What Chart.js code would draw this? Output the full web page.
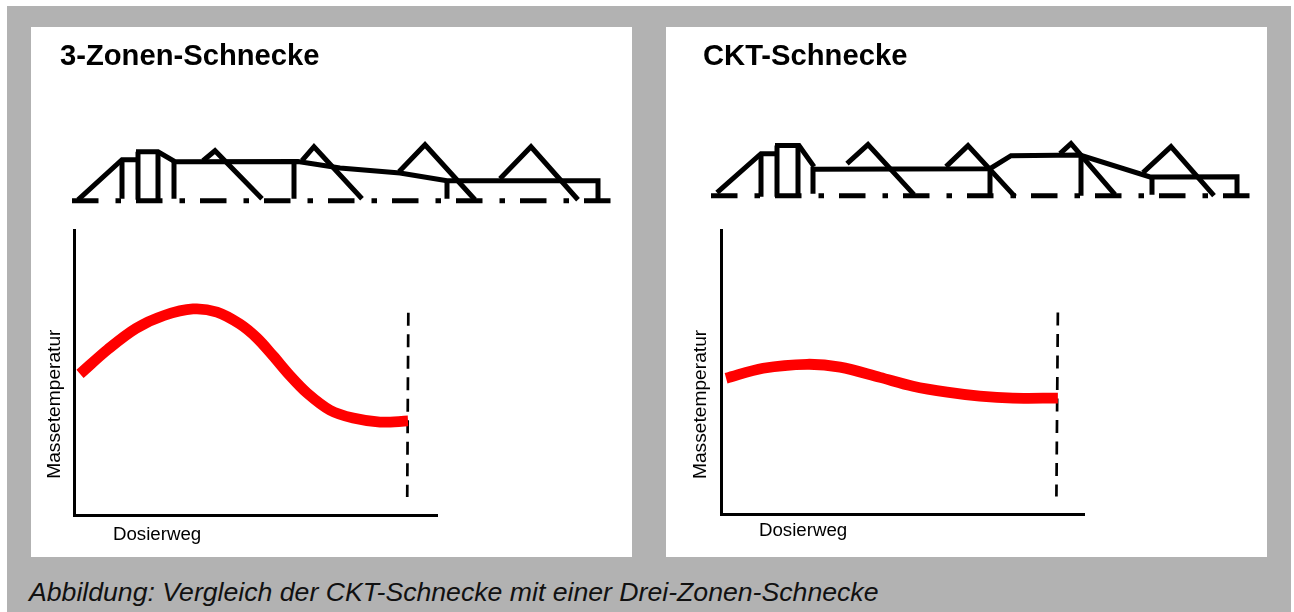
<!DOCTYPE html>
<html lang="de">
<head>
<meta charset="utf-8">
<title>Vergleich der CKT-Schnecke mit einer Drei-Zonen-Schnecke</title>
<script src="https://cdn.jsdelivr.net/npm/chart.js@4"></script>
<style>
html,body{margin:0;padding:0;width:1294px;height:612px;background:#fff;overflow:hidden;font-family:"Liberation Sans",Arial,sans-serif}
#frame{position:absolute;left:7px;top:6px;width:1284px;height:606px;background:#b2b2b2}
.panel{position:absolute;top:27px;width:601px;height:530px;background:#fff}
#p1{left:31px}#p2{left:666px}
canvas{position:absolute;left:0;display:block}
#caption{position:absolute;left:29px;top:577px;font:italic 26.65px "Liberation Sans",Arial,sans-serif;color:#111;white-space:nowrap}
</style>
</head>
<body>
<div id="frame"></div>
<div class="panel" id="p1">
  <canvas id="screw1" width="601" height="190" style="top:0"></canvas>
  <canvas id="curve1" width="601" height="340" style="top:190px"></canvas>
</div>
<div class="panel" id="p2">
  <canvas id="screw2" width="601" height="190" style="top:0"></canvas>
  <canvas id="curve2" width="601" height="340" style="top:190px"></canvas>
</div>
<div id="caption">Abbildung: Vergleich der CKT-Schnecke mit einer Drei-Zonen-Schnecke</div>
<script>
// Text
const titleThreeZone = "3-Zonen-Schnecke";
const titleCkt = "CKT-Schnecke";
const axisLabelX = "Dosierweg";
const axisLabelY = "Massetemperatur";

// Melt temperature over dosing path [dosing path, temperature], arbitrary 0-100 units
const meltThreeZone = [[1.65,49.5],[9.4,58.2],[17.1,65.5],[24.8,70],[32.8,72.3],[39.4,71.2],[45.7,67],[50.4,62.1],[54.8,55.9],[59.5,48.9],[64.2,42.8],[70.5,36.8],[76.9,34],[84.3,32.6],[92,33]];
const meltCkt = [[1.4,47.9],[11.6,51.4],[23.7,52.8],[32.8,51.8],[43.8,48.2],[52.9,45.1],[62.3,43],[71.3,41.6],[80.4,40.9],[92.8,40.9]];
const endMarkThreeZone = [[92.1,71],[91.8,6.3]];
const endMarkCkt = [[92.8,71],[92.4,6.3]];

// Screw profiles [distance along screw, height above centre line]
const centreThreeZone = [[0,0],[539,0]];
const coreThreeZone = [
  [[6,1],[50,41],[64,41]],
  [[50,41],[50,2]],
  [[66,49],[66,1]],
  [[86,49],[86,1]],
  [[64,49],[86,49],[103,39],[226,39.3],[268,32.8],[328,27.8],[375,20],[526,20],[526,0]],
  [[102,39],[102,2]],
  [[222,39],[222,2]],
  [[375,20],[375,2]]
];
const flightsThreeZone = [
  [[131,40],[143,50],[190,2]],
  [[230,40],[242,54],[290,2]],
  [[327,29],[353,56],[403,1]],
  [[428,22],[459,54],[506,1]]
];
const centreCkt = [[0,0],[539,0]];
const coreCkt = [
  [[6,3],[50,42],[64,42]],
  [[50,42],[50,-1]],
  [[66,50],[66,-1]],
  [[87,50],[87,-1]],
  [[64,50],[88,50],[103,29]],
  [[102,29],[102,2]],
  [[103,26.4],[279,27],[300,40],[369,40.6],[439,18.7],[526,19],[526,0]],
  [[279,27],[279,0]],
  [[370,40],[370,0]],
  [[441,19],[441,1]]
];
const flightsCkt = [
  [[136,32],[157,51],[203,1]],
  [[235,29],[257,50],[304,-1]],
  [[349,42],[360,52],[404,1]],
  [[432,23],[460,49],[503,0]]
];

// Caption anchors in data units of each curve chart
const captionsThreeZone = {x:[22.9,-7], y:[-5.2,38.9]};
const captionsCkt = {x:[22.6,-5.8], y:[-5.5,38.7]};

const toPoints = pairs => pairs.map(([x,y]) => ({x,y}));
const FONT = '"Liberation Sans", Arial, sans-serif';
Chart.defaults.animation = false;

const axisCaptions = {
  id:'axisCaptions',
  afterDraw(chart, _a, opts){
    const {ctx, scales:{x,y}} = chart;
    ctx.save();
    ctx.fillStyle = '#000';
    ctx.textAlign = 'center';
    ctx.textBaseline = 'middle';
    ctx.font = '18.7px ' + FONT;
    ctx.fillText(axisLabelX, x.getPixelForValue(opts.x[0]), y.getPixelForValue(opts.x[1]));
    ctx.font = '19.2px ' + FONT;
    ctx.translate(x.getPixelForValue(opts.y[0]), y.getPixelForValue(opts.y[1]));
    ctx.rotate(-Math.PI/2);
    ctx.fillText(axisLabelY, 0, 0);
    ctx.restore();
  }
};

function screwChart(id, title, centre, core, flights, pad, xr, yr){
  const solid = pts => ({data:toPoints(pts), borderColor:'#000', borderWidth:5, borderJoinStyle:'miter', pointRadius:0, tension:0, clip:false});
  new Chart(document.getElementById(id), {
    type:'line',
    data:{datasets:[
      ...core.map(solid),
      ...flights.map(solid),
      {data:toPoints(centre), borderColor:'#000', borderWidth:5, borderDash:[26.5,17,5.5,15], pointRadius:0, clip:false}
    ]},
    options:{
      responsive:false, parsing:false,
      layout:{padding:{left:pad,right:0,top:0,bottom:0}},
      scales:{
        x:{type:'linear',display:false,min:xr[0],max:xr[1]},
        y:{type:'linear',display:false,min:yr[0],max:yr[1]}
      },
      plugins:{
        legend:{display:false}, tooltip:{enabled:false},
        title:{display:true,text:title,align:'start',color:'#000',
          font:{family:FONT,size:29.2,weight:'bold',lineHeight:1.2},
          padding:{top:12,bottom:0}}
      }
    }
  });
}

function curveChart(id, melt, endMark, caps, pad){
  new Chart(document.getElementById(id), {
    type:'line',
    data:{datasets:[
      {data:toPoints(melt), borderColor:'#ff0000', borderWidth:10.8, pointRadius:0, tension:0.33, clip:false},
      {data:toPoints(endMark), borderColor:'#000', borderWidth:2.7, borderDash:[13,8.5], pointRadius:0, clip:false}
    ]},
    options:{
      responsive:false, parsing:false,
      layout:{padding:pad},
      scales:{
        x:{type:'linear',min:0,max:100,grid:{display:false,drawTicks:false},ticks:{display:false},border:{display:true,color:'#000',width:3}},
        y:{type:'linear',min:0,max:100,grid:{display:false,drawTicks:false},ticks:{display:false},border:{display:true,color:'#000',width:3}}
      },
      plugins:{legend:{display:false},tooltip:{enabled:false},axisCaptions:caps}
    },
    plugins:[axisCaptions]
  });
}

screwChart('screw1', titleThreeZone, centreThreeZone, coreThreeZone, flightsThreeZone, 29, [-12,560], [-16.2,126.6]);
screwChart('screw2', titleCkt, centreCkt, coreCkt, flightsCkt, 37, [-8,556], [-21.3,121.5]);
curveChart('curve1', meltThreeZone, endMarkThreeZone, captionsThreeZone, {left:43,right:195,top:13,bottom:42});
curveChart('curve2', meltCkt, endMarkCkt, captionsCkt, {left:55,right:183,top:13,bottom:42.5});
</script>
</body>
</html>
